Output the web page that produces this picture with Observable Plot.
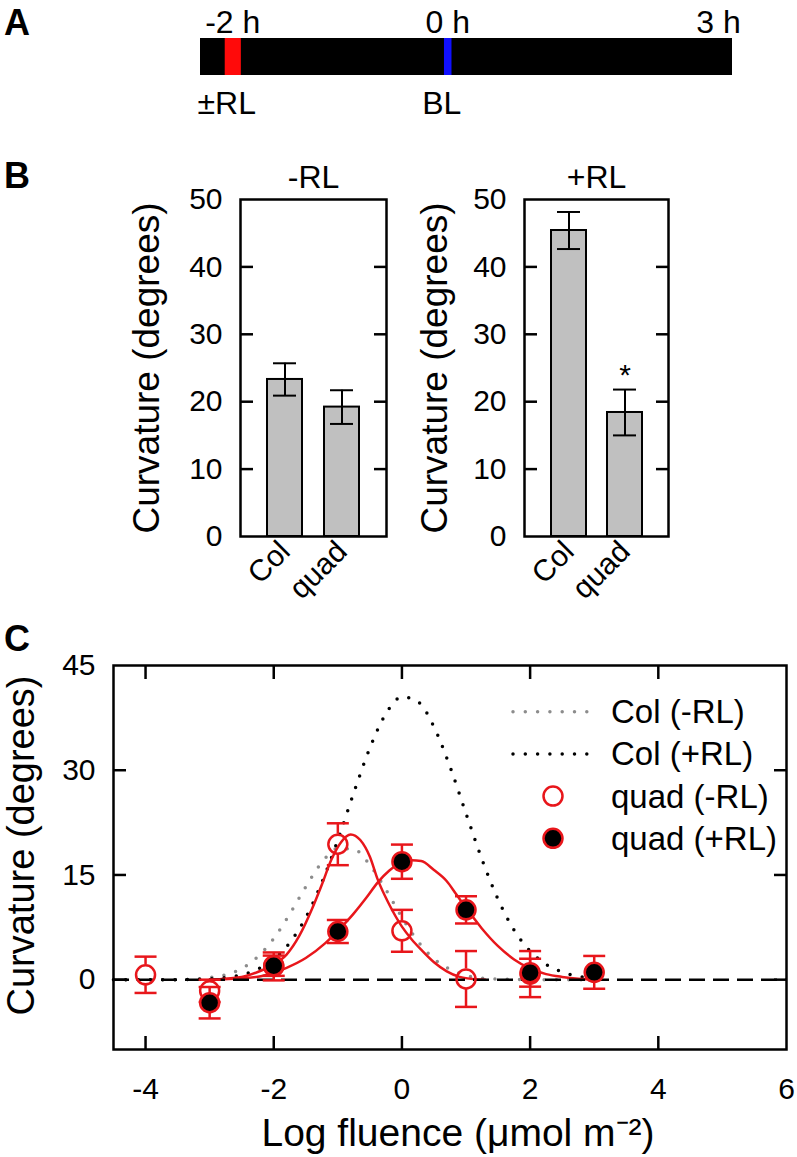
<!DOCTYPE html>
<html>
<head>
<meta charset="utf-8">
<script src="https://cdn.jsdelivr.net/npm/d3@7"></script>
<script src="https://cdn.jsdelivr.net/npm/@observablehq/plot@0.6"></script>
<style>
  body { margin: 0; background: #fff; }
  #root { position: relative; width: 797px; height: 1157px; overflow: hidden; font-family: "Liberation Sans", Arial, Helvetica, sans-serif; }
  .letter { position: absolute; font-weight: bold; font-size: 36px; line-height: 1; }
</style>
</head>
<body>
<div id="root">
  <div class="letter" style="left:4px;top:5px">A</div>
  <div class="letter" style="left:4px;top:158px">B</div>
  <div class="letter" style="left:4px;top:621px">C</div>
</div>
<script>
// ---------------- DATA ----------------
// Panel A: timeline (hours; the bar is drawn compressed after 0 h as in the figure)
const darkStart = -2.3, darkEnd = 2.65;
const timeTicks = [-2, 0, 2.52];
const timeTickLabels = ["-2 h", "0 h", "3 h"];
const treatmentTimes = [-2, 0];
const treatmentLabels = ["±RL", "BL"];
const darkPeriod = [{start: darkStart, end: darkEnd}];
const redPulse = [{start: -2.07, end: -1.92}];
const bluePulse = [{start: -0.03, end: 0.04}];

// Panel B: bar charts
const groups = ["Col", "quad"];
const minusRLMean = [23.3, 19.2];
const minusRLErr = [2.4, 2.5];
const plusRLMean = [45.4, 18.4];
const plusRLErr = [2.75, 3.4];
const plusRLSignif = ["", "*"];
const barTicks = [0, 10, 20, 30, 40, 50];

// Panel C: fluence response
const quadMinusX = [-4, -3, -2, -1, 0, 1, 2];
const quadMinusMean = [0.7, -1.6, 1.9, 19.4, 7.0, 0.1, 0.8];
const quadMinusErr = [2.6, 1.6, 2.0, 3.0, 3.0, 4.0, 3.3];
const quadPlusX = [-3, -2, -1, 0, 1, 2, 3];
const quadPlusMean = [-3.3, 2.0, 6.9, 16.9, 10.0, 1.0, 1.05];
const quadPlusErr = [2.25, 1.45, 1.65, 2.45, 1.95, 2.0, 2.35];

const colMinusFitX = [-4.5, -4, -3.5, -3, -2.75, -2.5, -2.25, -2, -1.75, -1.5, -1.25, -1, -0.75, -0.5, -0.25, 0, 0.25, 0.5, 0.75, 1, 1.25, 1.5, 2, 2.5, 3];
const colMinusFitY = [0, 0, 0, 0.3, 0.7, 1.6, 3.3, 5.9, 9.4, 13.3, 16.8, 18.8, 18.7, 16.4, 12.9, 8.9, 5.5, 3.0, 1.5, 0.6, 0.2, 0.1, 0, 0, 0];
const colPlusFitX = [-4.5, -4, -3.5, -3, -2.75, -2.5, -2.25, -2, -1.75, -1.5, -1.25, -1, -0.75, -0.5, -0.25, 0, 0.25, 0.5, 0.75, 1, 1.25, 1.5, 1.75, 2, 2.25, 2.5, 2.75, 3];
const colPlusFitY = [0, 0, 0, 0.1, 0.3, 0.7, 1.5, 2.9, 5.3, 8.9, 13.9, 20.0, 26.8, 33.2, 38.1, 40.5, 39.8, 36.2, 30.5, 23.8, 17.2, 11.5, 7.1, 4.1, 2.2, 1.1, 0.5, 0.2];
const quadMinusFitX = [-3, -2.5, -2.25, -2, -1.8, -1.6, -1.4, -1.25, -1.1, -0.95, -0.8, -0.65, -0.5, -0.38, -0.2, 0, 0.15, 0.3, 0.5, 0.7, 0.9, 1.1, 1.3];
const quadMinusFitY = [0, 0.4, 1.1, 2.2, 3.6, 6.3, 10.2, 13.6, 17.2, 19.7, 20.8, 20.0, 17.6, 14.4, 10.8, 7.6, 5.8, 4.3, 2.5, 1.2, 0.4, 0.1, 0];
const quadPlusFitX = [-3, -2.5, -2.2, -2, -1.8, -1.5, -1.2, -1, -0.75, -0.55, -0.38, -0.2, 0, 0.15, 0.3, 0.5, 0.7, 0.85, 1, 1.25, 1.5, 1.75, 2, 2.25, 2.5, 2.75, 3];
const quadPlusFitY = [0, 0.2, 0.5, 1.0, 1.7, 3.1, 5.2, 7.0, 9.5, 11.8, 13.9, 15.6, 16.8, 17.1, 17.0, 15.7, 14.1, 12.2, 10.3, 7.3, 4.8, 2.9, 1.6, 0.8, 0.4, 0.15, 0.05];

const cYTicks = [0, 15, 30, 45];
const cXTicks = [-4, -2, 0, 2, 4, 6];
const legendNames = ["Col (-RL)", "Col (+RL)", "quad (-RL)", "quad (+RL)"];

// ---------------- STYLE / LAYOUT ----------------
const FONT = '"Liberation Sans", Arial, Helvetica, sans-serif';
const RED = "#e8161b";
const GRAY = "#8c8c8c";
const baseStyle = {fontFamily: FONT, fontSize: "30px", color: "black", background: "transparent", overflow: "visible"};
const root = document.getElementById("root");
function place(node, left, top) {
  const d = document.createElement("div");
  d.style.position = "absolute";
  d.style.left = left + "px";
  d.style.top = top + "px";
  d.appendChild(node);
  root.appendChild(d);
}
const zip = (xs, ys) => xs.map((x, i) => ({x, y: ys[i]}));
const plain = d => String(d);

// ---------------- PANEL A ----------------
const plotA = Plot.plot({
  width: 797, height: 130, marginLeft: 200, marginRight: 65, marginTop: 38, marginBottom: 55,
  style: baseStyle,
  x: {domain: [darkStart, darkEnd], axis: null},
  y: {domain: [0, 1], axis: null},
  marks: [
    Plot.rect(darkPeriod, {x1: "start", x2: "end", y1: 0, y2: 1, fill: "black"}),
    Plot.rect(redPulse, {x1: "start", x2: "end", y1: 0, y2: 1, fill: "#ff0a0a"}),
    Plot.rect(bluePulse, {x1: "start", x2: "end", y1: 0, y2: 1, fill: "#1010ff"}),
    Plot.text(timeTicks, {x: d => d, y: 1, text: (d, i) => timeTickLabels[i], dy: -16, fontSize: 32, lineAnchor: "middle"}),
    Plot.text(treatmentTimes, {x: d => d, y: 0, text: (d, i) => treatmentLabels[i], dy: 28, dx: -6, fontSize: 32, lineAnchor: "middle"})
  ]
});
place(plotA, 0, 0);

// ---------------- PANEL B ----------------
function barPanel({title, means, errs, signif, width, ml, mr, titleDx}) {
  const rows = groups.map((g, i) => ({g, v: means[i], lo: means[i] - errs[i], hi: means[i] + errs[i], s: signif[i]}));
  return Plot.plot({
    width, height: 470, marginLeft: ml, marginRight: mr, marginTop: 59, marginBottom: 74,
    style: baseStyle,
    x: {type: "band", domain: groups, paddingInner: 0.38, paddingOuter: 0.46, axis: null},
    y: {domain: [0, 50], axis: null},
    marks: [
      Plot.barY(rows, {x: "g", y: "v", fill: "#c0c0c0", stroke: "black", strokeWidth: 2}),
      Plot.ruleX(rows, {x: "g", y1: "lo", y2: "hi", strokeWidth: 2}),
      Plot.tickY(rows, {x: "g", y: "lo", insetLeft: 6, insetRight: 6, strokeWidth: 2}),
      Plot.tickY(rows, {x: "g", y: "hi", insetLeft: 6, insetRight: 6, strokeWidth: 2}),
      Plot.text(rows.filter(r => r.s), {x: "g", y: "hi", text: "s", dy: -14, fontSize: 30, lineAnchor: "middle"}),
      Plot.frame({strokeWidth: 2.5}),
      Plot.axisY({anchor: "left", ticks: barTicks, tickSize: 0, tickPadding: 18, tickFormat: plain, label: null}),
      Plot.axisY({anchor: "left", ticks: barTicks.slice(1, -1), tickSize: -13, tickFormat: () => "", strokeWidth: 2.5, label: null}),
      Plot.axisY({anchor: "right", ticks: barTicks.slice(1, -1), tickSize: -13, tickFormat: () => "", strokeWidth: 2.5, label: null}),
      Plot.axisX({anchor: "bottom", tickSize: 0, tickRotate: -45, tickPadding: 10, label: null}),
      Plot.text([title], {frameAnchor: "top", dy: -22, fontSize: 32, lineAnchor: "middle", textAnchor: "middle"}),
      Plot.text(["Curvature (degrees)"], {frameAnchor: "left", dx: titleDx, rotate: -90, fontSize: 37, textAnchor: "middle", lineAnchor: "middle"})
    ]
  });
}
place(barPanel({title: "-RL", means: minusRLMean, errs: minusRLErr, signif: ["", ""], width: 400, ml: 240, mr: 14, titleDx: -93}), 0, 140);
place(barPanel({title: "+RL", means: plusRLMean, errs: plusRLErr, signif: plusRLSignif, width: 407, ml: 134, mr: 129, titleDx: -89}), 390, 140);

// ---------------- PANEL C ----------------
const capSymbol = {draw(context, size) { const w = Math.sqrt(size / Math.PI); context.moveTo(-w, 0); context.lineTo(w, 0); }};
const quadMinus = quadMinusX.map((x, i) => ({x, y: quadMinusMean[i], lo: quadMinusMean[i] - quadMinusErr[i], hi: quadMinusMean[i] + quadMinusErr[i]}));
const quadPlus = quadPlusX.map((x, i) => ({x, y: quadPlusMean[i], lo: quadPlusMean[i] - quadPlusErr[i], hi: quadPlusMean[i] + quadPlusErr[i]}));
const allPts = quadMinus.concat(quadPlus);

const plotC = Plot.plot({
  width: 797, height: 557, marginLeft: 113, marginRight: 11, marginTop: 65, marginBottom: 108,
  style: baseStyle,
  x: {domain: [-4.5, 6], axis: null},
  y: {domain: [-10, 45], axis: null},
  marks: [
    Plot.line(zip(colMinusFitX, colMinusFitY), {x: "x", y: "y", stroke: GRAY, strokeWidth: 3.5, strokeDasharray: "0,12.3", strokeLinecap: "round", curve: "monotone-x"}),
    Plot.line(zip(colPlusFitX, colPlusFitY), {x: "x", y: "y", stroke: "black", strokeWidth: 3.5, strokeDasharray: "0,12.3", strokeLinecap: "round", curve: "monotone-x"}),
    Plot.line(zip(quadMinusFitX, quadMinusFitY), {x: "x", y: "y", stroke: RED, strokeWidth: 2.5, curve: "monotone-x"}),
    Plot.line(zip(quadPlusFitX, quadPlusFitY), {x: "x", y: "y", stroke: RED, strokeWidth: 2.5, curve: "monotone-x"}),
    Plot.ruleY([0], {strokeDasharray: "16,8", strokeWidth: 2.5}),
    Plot.ruleX(quadMinus, {x: "x", y1: "hi", y2: "y", insetBottom: 10, stroke: RED, strokeWidth: 2.5}),
    Plot.ruleX(quadMinus, {x: "x", y1: "y", y2: "lo", insetTop: 10, stroke: RED, strokeWidth: 2.5}),
    Plot.ruleX(quadPlus, {x: "x", y1: "lo", y2: "hi", stroke: RED, strokeWidth: 2.5}),
    Plot.dot(allPts, {x: "x", y: "hi", symbol: capSymbol, r: 11, fill: "none", stroke: RED, strokeWidth: 2.5}),
    Plot.dot(allPts, {x: "x", y: "lo", symbol: capSymbol, r: 11, fill: "none", stroke: RED, strokeWidth: 2.5}),
    Plot.dot(quadMinus, {x: "x", y: "y", r: 9.5, fill: "none", stroke: RED, strokeWidth: 2.5}),
    Plot.dot(quadPlus, {x: "x", y: "y", r: 9.5, fill: "black", stroke: RED, strokeWidth: 2.5}),
    Plot.frame({strokeWidth: 2.5}),
    Plot.axisY({anchor: "left", ticks: cYTicks, tickSize: 0, tickPadding: 18, tickFormat: plain, label: null}),
    Plot.axisY({anchor: "left", ticks: [0, 15, 30], tickSize: -13, tickFormat: () => "", strokeWidth: 2.5, label: null}),
    Plot.axisY({anchor: "right", ticks: [0, 15, 30], tickSize: -13, tickFormat: () => "", strokeWidth: 2.5, label: null}),
    Plot.axisX({anchor: "bottom", ticks: cXTicks, tickSize: 0, tickPadding: 28, tickFormat: plain, label: null}),
    Plot.axisX({anchor: "bottom", ticks: cXTicks.slice(0, -1), tickSize: -13, tickFormat: () => "", strokeWidth: 2.5, label: null}),
    Plot.axisX({anchor: "top", ticks: cXTicks.slice(0, -1), tickSize: -13, tickFormat: () => "", strokeWidth: 2.5, label: null}),
    Plot.text(["Log fluence (μmol m⁻²)"], {frameAnchor: "bottom", dy: 84, dx: 8, fontSize: 39, lineAnchor: "middle", textAnchor: "middle"}),
    Plot.text(["Curvature (degrees)"], {frameAnchor: "left", dx: -92, dy: -12, rotate: -90, fontSize: 38, textAnchor: "middle", lineAnchor: "middle"})
  ]
});
place(plotC, 0, 600);

// ---------------- LEGEND (panel C) ----------------
const lg = d3.create("svg").attr("width", 300).attr("height", 180).style("overflow", "visible").style("font-family", FONT);
legendNames.forEach((name, i) => {
  const g = lg.append("g").attr("transform", `translate(0,${31.7 + i * 42.2})`);
  if (i < 2) {
    g.append("line").attr("x1", 23).attr("x2", 98.5).attr("stroke", i === 0 ? GRAY : "black")
      .attr("stroke-width", 3.5).attr("stroke-dasharray", "0,12.3").attr("stroke-linecap", "round");
  } else {
    g.append("circle").attr("cx", 63).attr("r", 9.5).attr("fill", i === 3 ? "black" : "none")
      .attr("stroke", RED).attr("stroke-width", 2.5);
  }
  g.append("text").attr("x", 121).attr("dy", "0.35em").attr("font-size", 33).text(name);
});
place(lg.node(), 490, 680);
</script>
</body>
</html>
